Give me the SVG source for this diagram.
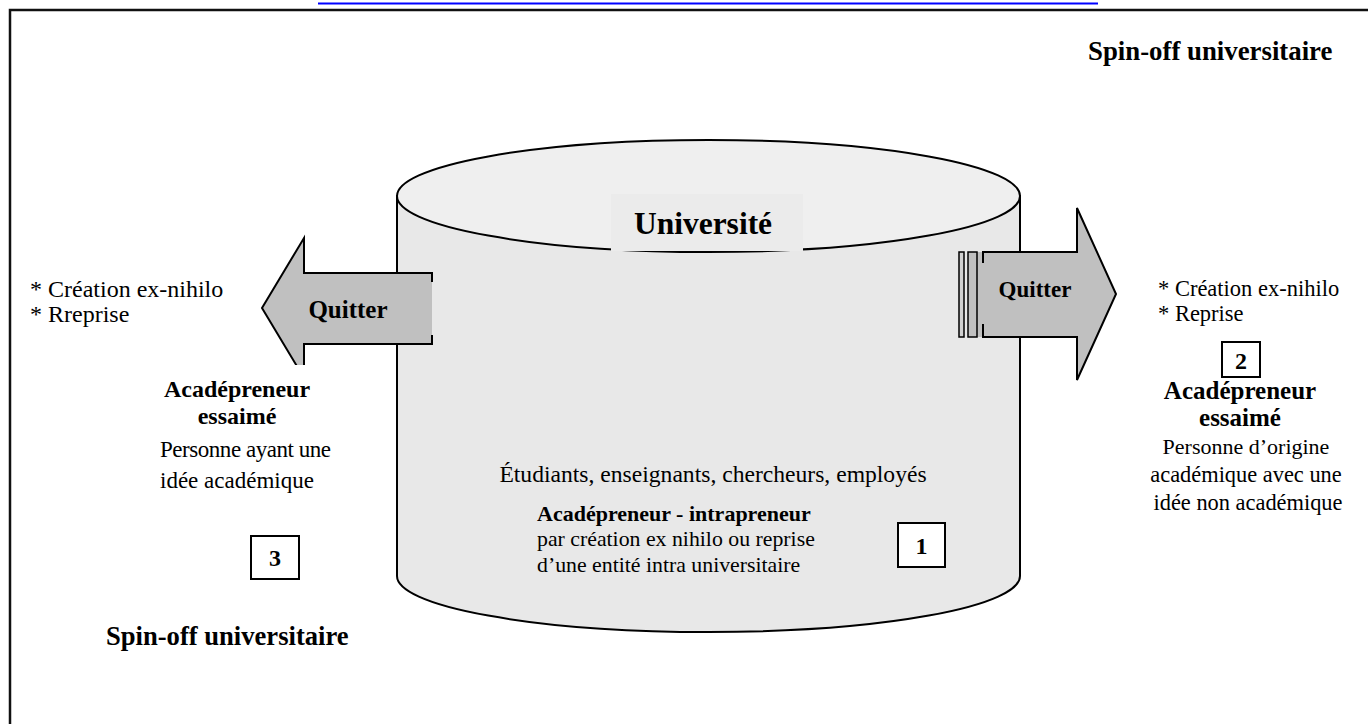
<svg xmlns="http://www.w3.org/2000/svg" width="1368" height="724" viewBox="0 0 1368 724">
<style>
.t{font-family:"Liberation Serif","Times New Roman",serif;fill:#000}
.r{font-size:23px}
.b{font-size:24px;font-weight:bold}
.ln{fill:none;stroke:#000;stroke-width:2}
.arr{fill:#c0c0c0;stroke:none}
.box{fill:#fff;stroke:#000;stroke-width:2}
</style>
<rect width="1368" height="724" fill="#fff"/>
<line x1="318" y1="3.5" x2="1098" y2="3.5" stroke="#0000ff" stroke-width="2"/>
<rect x="10" y="10" width="1370" height="730" fill="none" stroke="#111" stroke-width="2.5"/>

<g id="titles">
<text class="t" x="1088" y="60" style="font-size:26.8px;font-weight:bold">Spin-off universitaire</text>
<text class="t" x="106" y="645" style="font-size:26.6px;font-weight:bold">Spin-off universitaire</text>
</g>

<g id="universite">
<path d="M397 196 L397 576 A311.5 56 0 0 0 1020 576 L1020 196 Z" fill="#e8e8e8" stroke="#000" stroke-width="2"/>
<ellipse cx="708.5" cy="196" rx="311.5" ry="56" fill="#efefef" stroke="#000" stroke-width="2"/>
<rect x="611" y="194" width="192" height="57" fill="#ebebeb"/>
<text class="t" x="703" y="234" text-anchor="middle" style="font-size:31.5px;font-weight:bold">Université</text>
<text class="t" x="713" y="482" text-anchor="middle" style="font-size:23.6px">Étudiants, enseignants, chercheurs, employés</text>
<text class="t" x="537" y="521" style="font-size:22px;font-weight:bold">Acadépreneur - intrapreneur</text>
<text class="t" x="537" y="546" style="font-size:21.8px">par création ex nihilo ou reprise</text>
<text class="t" x="537" y="572" style="font-size:21.8px">d’une entité intra universitaire</text>
</g>

<g id="box1">
<rect class="box" x="898" y="523" width="47" height="44"/>
<text class="t b" x="921.5" y="554" text-anchor="middle">1</text>
</g>

<g id="connectors">
<g id="arrow-left">
<polygon class="arr" points="432,273 304,273 304,238 262,308 304,378 304,344 432,344"/>
<polyline class="ln" points="432,282 432,273 304,273 304,238 262,308 304,378 304,344 432,344 432,335"/>
<rect x="250" y="365" width="80" height="20" fill="#fff"/>
<text class="t" x="348" y="318" text-anchor="middle" style="font-size:25px;font-weight:bold">Quitter</text>
</g>
<g id="arrow-right">
<polygon class="arr" points="977,252 1077,252 1077,208 1116,294 1077,380 1077,337 977,337"/>
<polyline class="ln" points="983,263 983,252 1077,252 1077,208 1116,294 1077,380 1077,337 983,337 983,324"/>
<rect x="959" y="252" width="5" height="85" fill="#d0d0d0" stroke="#000" stroke-width="1.5"/>
<rect x="968" y="252" width="9" height="85" fill="#c0c0c0" stroke="#000" stroke-width="1.5"/>
<text class="t" x="1035" y="297" text-anchor="middle" style="font-size:23px;font-weight:bold">Quitter</text>
</g>
</g>

<g id="left-block">
<text class="t" x="30" y="297" style="font-size:24px">* Création ex-nihilo</text>
<text class="t" x="30" y="322" style="font-size:24px">* Rreprise</text>
<text class="t" x="237" y="397" text-anchor="middle" style="font-size:24px;font-weight:bold">Acadépreneur</text>
<text class="t" x="237" y="424" text-anchor="middle" style="font-size:24px;font-weight:bold">essaimé</text>
<text class="t r" x="160" y="457" textLength="171" lengthAdjust="spacing">Personne ayant une</text>
<text class="t r" x="160" y="488">idée académique</text>
</g>

<g id="box3">
<rect class="box" x="251" y="536" width="48" height="43"/>
<text class="t b" x="275" y="566" text-anchor="middle">3</text>
</g>

<g id="right-block">
<text class="t" x="1158" y="296" style="font-size:22.5px">* Création ex-nihilo</text>
<text class="t" x="1158" y="321" style="font-size:22.5px">* Reprise</text>
<text class="t" x="1240" y="399" text-anchor="middle" style="font-size:25px;font-weight:bold">Acadépreneur</text>
<text class="t" x="1240" y="426" text-anchor="middle" style="font-size:25px;font-weight:bold">essaimé</text>
<text class="t" x="1246" y="454" text-anchor="middle" style="font-size:22px">Personne d’origine</text>
<text class="t" x="1246" y="482" text-anchor="middle" style="font-size:22.4px">académique avec une</text>
<text class="t" x="1248" y="510" text-anchor="middle" style="font-size:22.4px">idée non  académique</text>
</g>

<g id="box2">
<rect class="box" x="1222" y="342" width="38" height="35"/>
<text class="t b" x="1241" y="369" text-anchor="middle">2</text>
</g>
</svg>
